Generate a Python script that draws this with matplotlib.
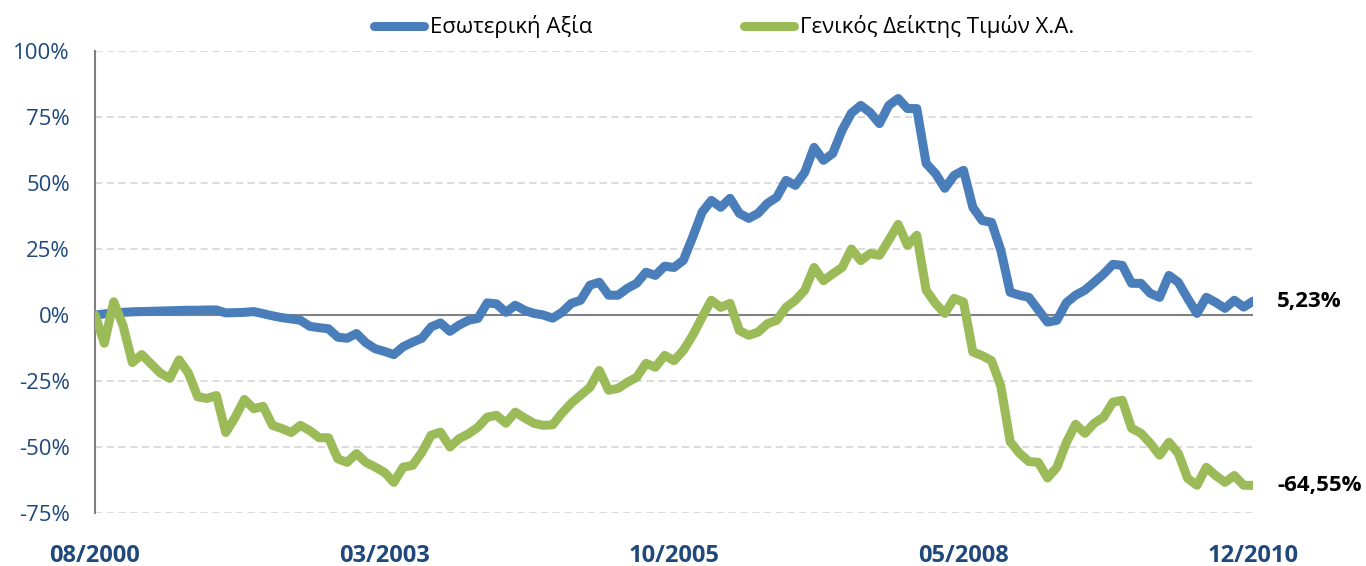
import numpy as np
import pandas as pd
import matplotlib
matplotlib.use("Agg")
import matplotlib.pyplot as plt
from matplotlib.ticker import FuncFormatter

plt.rcParams['font.family'] = ['Open Sans', 'DejaVu Sans']

# monthly categories 08/2000 .. 12/2010
months = pd.date_range('2000-08-01', '2010-12-01', freq='MS').strftime('%m/%Y')
tick_labels = ['08/2000', '03/2003', '10/2005', '05/2008', '12/2010']

series_names = ['Εσωτερική Αξία', 'Γενικός Δείκτης Τιμών Χ.Α.']

# cumulative change, %
esoteriki = [
    0, 0.4, 0.8, 1.0, 1.2, 1.3, 1.4, 1.5, 1.6, 1.7,
    1.8, 1.8, 1.9, 1.9, 0.8, 0.9, 1.0, 1.3, 0.5, -0.3,
    -1.0, -1.5, -2.0, -4.3, -4.8, -5.2, -8.4, -8.8, -7.0, -10.5,
    -12.8, -13.8, -15.0, -12.0, -10.3, -8.8, -4.5, -3.0, -6.2, -3.8,
    -2.0, -1.3, 4.6, 4.2, 1.0, 3.7, 1.8, 0.6, 0.0, -1.2,
    1.0, 4.4, 5.6, 11.3, 12.4, 7.5, 7.5, 10.1, 12.0, 16.2,
    15.0, 18.5, 18.0, 20.7, 29.5, 38.9, 43.4, 40.8, 44.2, 38.5,
    36.6, 38.5, 42.3, 44.6, 51.0, 49.1, 54.0, 63.5, 58.6, 61.2,
    70.0, 76.5, 79.4, 76.7, 72.5, 79.4, 82.0, 78.2, 78.2, 57.4,
    53.6, 48.0, 52.9, 54.8, 40.8, 35.8, 35.1, 24.5, 8.6, 7.5,
    6.7, 2.0, -2.7, -2.0, 4.6, 7.5, 9.4, 12.4, 15.5, 19.2,
    18.8, 12.0, 12.0, 8.2, 6.7, 15.0, 12.4, 6.3, 0.6, 6.7,
    4.8, 2.5, 5.6, 3.0, 5.23,
]

genikos = [
    0, -10.7, 5.0, -4.0, -18.0, -15.0, -18.5, -22.0, -24.0, -17.0,
    -22.0, -31.0, -31.6, -30.5, -44.5, -38.8, -32.0, -35.5, -34.6, -41.8,
    -43.0, -44.5, -41.8, -43.8, -46.5, -46.5, -54.5, -55.8, -52.5, -55.8,
    -57.6, -59.6, -63.4, -57.6, -57.0, -52.0, -45.5, -44.4, -50.0, -46.8,
    -45.0, -42.5, -38.7, -38.0, -41.0, -36.8, -39.0, -41.0, -41.8, -41.6,
    -37.2, -33.4, -30.4, -27.4, -21.0, -28.5, -27.8, -25.5, -23.6, -18.3,
    -19.8, -15.3, -17.3, -13.4, -7.7, -0.9, 5.6, 2.9, 4.4, -5.9,
    -7.7, -6.5, -3.3, -2.0, 2.9, 5.6, 9.4, 18.0, 13.0, 15.6,
    18.0, 25.0, 20.6, 23.3, 22.6, 28.3, 34.3, 26.4, 30.2, 9.4,
    4.4, 0.6, 6.3, 4.9, -14.0, -15.4, -17.3, -27.0, -48.0, -52.4,
    -55.5, -55.8, -61.7, -57.7, -48.4, -41.4, -44.8, -41.0, -38.7, -33.0,
    -32.3, -42.9, -44.8, -48.6, -53.1, -48.2, -52.4, -61.9, -64.5, -57.7,
    -60.8, -63.4, -60.8, -64.5, -64.55,
]

blue = '#4A7EBB'
green = '#9BBB59'
txt_blue = '#1F497D'

x = np.arange(len(months))

fig = plt.figure(figsize=(13.66, 5.66), dpi=100)
ax = fig.add_axes([95/1366, 1-513/566, (1253-95)/1366, (513-51)/566])

ax.plot(x, esoteriki, color=blue, lw=6.5, solid_joinstyle='round',
        solid_capstyle='round', label=series_names[0], zorder=3)
ax.plot(x, genikos, color=green, lw=6.5, solid_joinstyle='round',
        solid_capstyle='round', label=series_names[1], zorder=3)

ax.set_xlim(0, len(months) - 1)
ax.set_ylim(-75, 100)
ax.set_yticks([-75, -50, -25, 0, 25, 50, 75, 100])
ax.yaxis.set_major_formatter(FuncFormatter(lambda v, p: f"{v:.0f}%"))

tick_pos = [list(months).index(t) for t in tick_labels]
ax.set_xticks(tick_pos)
ax.set_xticklabels(tick_labels)

# grid: dashed light grey, solid line at zero
for v in [-75, -50, -25, 25, 50, 75, 100]:
    ax.axhline(v, color='#D9D9D9', lw=1.3, ls=(0, (4, 2.5)), zorder=1)
ax.axhline(0, color='#808080', lw=1.5, zorder=2)

for s in ['top', 'right', 'bottom']:
    ax.spines[s].set_visible(False)
ax.spines['left'].set_color('#808080')
ax.spines['left'].set_linewidth(1.5)

ax.tick_params(axis='both', length=0)
ax.tick_params(axis='y', pad=18, labelsize=16, labelcolor=txt_blue)
ax.tick_params(axis='x', pad=22, labelsize=17, labelcolor=txt_blue)
for lbl in ax.get_xticklabels():
    lbl.set_fontweight('bold')

# end labels
for vals in (esoteriki, genikos):
    ax.annotate(f"{vals[-1]:.2f}%".replace('.', ','), xy=(x[-1], vals[-1]),
                xytext=(24, 0), textcoords='offset pixels', ha='left',
                va='center', fontsize=16, fontweight='bold', color='black',
                annotation_clip=False)

fig.legend(loc='center', bbox_to_anchor=(724/1366, 1-27/566), ncol=2,
           frameon=False, fontsize=16, handlelength=2.25, handletextpad=0.3,
           columnspacing=6.8)

fig.savefig('out.png', dpi=100)
